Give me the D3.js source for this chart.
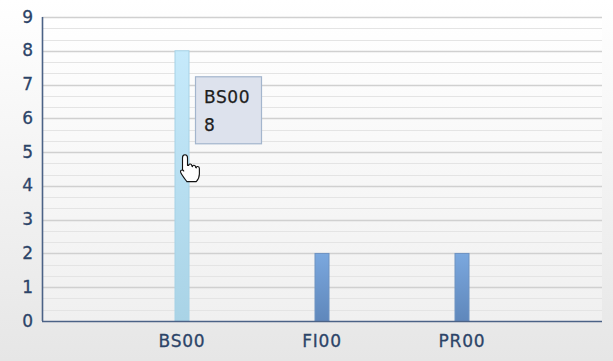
<!DOCTYPE html>
<html>
<head>
<meta charset="utf-8">
<script src="https://cdn.jsdelivr.net/npm/d3@7"></script>
<style>
  html, body { margin: 0; padding: 0; background: #fff; }
  svg { display: block; }
  text { font-family: "DejaVu Sans", Verdana, sans-serif; }
</style>
</head>
<body>
<svg id="chart" width="613" height="361"></svg>
<script>
// Category counts
const categories = ["BS00", "FI00", "PR00"];
const values = [8, 2, 2];
const yTicks = [0, 1, 2, 3, 4, 5, 6, 7, 8, 9];
const highlighted = "BS00";

const W = 613, H = 361;
const margin = { left: 42, right: 11, top: 17, bottom: 40 };
const svg = d3.select("#chart");
const defs = svg.append("defs");

// Page background: white fading to light grey
const bg = defs.append("linearGradient").attr("id", "bg").attr("x1", 0).attr("y1", 0).attr("x2", 0).attr("y2", 1);
bg.append("stop").attr("offset", "0%").attr("stop-color", "#ffffff");
bg.append("stop").attr("offset", "100%").attr("stop-color", "#e6e6e6");
svg.append("rect").attr("width", W).attr("height", H).attr("fill", "url(#bg)");

const plotBg = defs.append("linearGradient").attr("id", "plotbg").attr("x1", 0).attr("y1", 0).attr("x2", 0).attr("y2", 1);
plotBg.append("stop").attr("offset", "0%").attr("stop-color", "#ffffff");
plotBg.append("stop").attr("offset", "100%").attr("stop-color", "#f0f0f0");

const barDark = defs.append("linearGradient").attr("id", "barDark").attr("x1", 0).attr("y1", 0).attr("x2", 0).attr("y2", 1);
barDark.append("stop").attr("offset", "0%").attr("stop-color", "#7ba8de");
barDark.append("stop").attr("offset", "100%").attr("stop-color", "#5f87bb");

const barLight = defs.append("linearGradient").attr("id", "barLight").attr("x1", 0).attr("y1", 0).attr("x2", 0).attr("y2", 1);
barLight.append("stop").attr("offset", "0%").attr("stop-color", "#c6eafb");
barLight.append("stop").attr("offset", "100%").attr("stop-color", "#a9d3e6");

const x = d3.scalePoint().domain(categories).range([margin.left, W - margin.right]).padding(1);
const y = d3.scaleLinear().domain([0, 9]).range([H - margin.bottom, margin.top]);

svg.append("rect")
  .attr("x", margin.left).attr("y", margin.top)
  .attr("width", W - margin.right - margin.left)
  .attr("height", y(0) - margin.top)
  .attr("fill", "url(#plotbg)");

// Minor grid lines at thirds of each unit
const minor = [];
for (let i = 0; i < 9; i++) { minor.push(i + 1 / 3, i + 2 / 3); }
svg.append("g").selectAll("line").data(minor).join("line")
  .attr("x1", margin.left).attr("x2", W - margin.right)
  .attr("y1", d => Math.round(y(d)) + 0.5).attr("y2", d => Math.round(y(d)) + 0.5)
  .attr("stroke", "#e4e4e4").attr("stroke-width", 1);

// Major grid lines
svg.append("g").selectAll("line").data(yTicks.filter(d => d > 0)).join("line")
  .attr("x1", margin.left).attr("x2", W - margin.right)
  .attr("y1", d => Math.round(y(d)) + 0.5).attr("y2", d => Math.round(y(d)) + 0.5)
  .attr("stroke", "#d0d0d0").attr("stroke-width", 1.3);

// Bars
const barW = 15;
svg.append("g").selectAll("rect").data(categories).join("rect")
  .attr("x", d => x(d) - barW / 2 + 0.5)
  .attr("y", (d, i) => y(values[i]))
  .attr("width", barW - 1)
  .attr("height", (d, i) => y(0) - y(values[i]))
  .attr("fill", d => d === highlighted ? "url(#barLight)" : "url(#barDark)")
  .attr("stroke", d => d === highlighted ? "#a6d2e6" : "#6e93c2")
  .attr("stroke-width", 1);

// Axes
const axisColor = "#4b6286";
const labelColor = "#2c4468";
svg.append("line")
  .attr("x1", margin.left + 0.5).attr("x2", margin.left + 0.5)
  .attr("y1", y(9)).attr("y2", y(0))
  .attr("stroke", axisColor).attr("stroke-width", 1.6);
svg.append("line")
  .attr("x1", margin.left).attr("x2", W - margin.right)
  .attr("y1", y(0) + 0.5).attr("y2", y(0) + 0.5)
  .attr("stroke", axisColor).attr("stroke-width", 1.6);

svg.append("g").selectAll("text").data(yTicks).join("text")
  .attr("x", 33).attr("y", d => y(d) + 5.5)
  .attr("text-anchor", "end")
  .attr("font-size", 17).attr("fill", labelColor)
  .attr("stroke", labelColor).attr("stroke-width", 0.3)
  .text(d => d);

svg.append("g").selectAll("text").data(categories).join("text")
  .attr("x", d => x(d)).attr("y", 347)
  .attr("text-anchor", "middle")
  .attr("font-size", 17).attr("letter-spacing", 0.8).attr("fill", labelColor)
  .attr("stroke", labelColor).attr("stroke-width", 0.3)
  .text(d => d);

// Tooltip for the highlighted bar
const hi = categories.indexOf(highlighted);
const tip = svg.append("g").attr("transform", `translate(${x(highlighted) + 13},${y(values[hi]) + 25.5})`);
tip.append("rect").attr("x", 0.5).attr("y", 0.5).attr("width", 66).attr("height", 67)
  .attr("fill", "#dde2ed").attr("stroke", "#a3b5cd").attr("stroke-width", 1.2);
tip.append("text").attr("x", 9).attr("y", 27).attr("font-size", 17).attr("letter-spacing", 0.6)
  .attr("fill", "#1e1e1e").attr("stroke", "#1e1e1e").attr("stroke-width", 0.25).text(highlighted);
tip.append("text").attr("x", 9).attr("y", 55).attr("font-size", 17)
  .attr("fill", "#1e1e1e").attr("stroke", "#1e1e1e").attr("stroke-width", 0.25).text(values[hi]);

// Pointer cursor
const hand = svg.append("g").attr("transform", `translate(${x(highlighted) - 2},${y(5) + 2}) scale(1.25)`);
hand.append("path")
  .attr("d", "M4,0.5 C5.5,0.5 6,1.5 6,3 L6,9 L7,9 C7,7.5 9.5,7.5 9.5,9.5 L10,10 C10,8.5 12.5,8.5 12.5,10.5 L13,11 C13,9.5 15.5,9.5 15.5,11.5 L15.5,16 C15.5,19 14,21 13,22 L5.5,22 C4,20 1.5,17 0.5,14.5 C0,13 1.5,12 3,13.5 L2,12.5 L2,3 C2,1.5 2.5,0.5 4,0.5 Z")
  .attr("fill", "#fff").attr("stroke", "#111").attr("stroke-width", 0.9).attr("stroke-linejoin", "round");
</script>
</body>
</html>
